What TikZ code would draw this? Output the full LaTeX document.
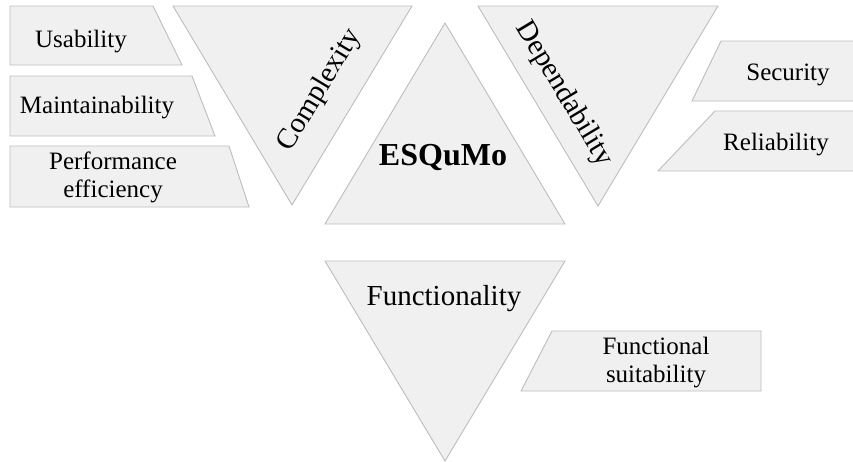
\documentclass[tikz,border=0pt]{standalone}
\usepackage{fontspec}
\setmainfont{Liberation Serif}
\definecolor{shapefill}{HTML}{F0F0F0}
\definecolor{shapeline}{HTML}{BDBDBD}
\begin{document}
\begin{tikzpicture}[x=1pt,y=-1pt,
  panel/.style={draw=shapeline, fill=shapefill, line width=0.9pt, line join=miter},
  boxtext/.style={font=\fontsize{25}{28}\selectfont, inner sep=0pt, align=center},
  tritext/.style={font=\fontsize{29}{32}\selectfont, inner sep=0pt},
  hubtext/.style={font=\bfseries\fontsize{32}{36}\selectfont, inner sep=0pt}]
\useasboundingbox (0,0) rectangle (853,461);
\begin{scope}
\clip (0,0) rectangle (853,461);
% central triangle
\path[panel] (325,224) -- (565,224) -- (445,23) -- cycle;
% inverted triangles
\path[panel] (173,6) -- (412,6) -- (292,205) -- cycle;
\path[panel] (478,6) -- (718,6) -- (598,206) -- cycle;
\path[panel] (325,261) -- (565,261) -- (445,461) -- cycle;
% left-hand attribute boxes
\path[panel] (10,6) -- (153,6) -- (182,65) -- (10,65) -- cycle;
\path[panel] (10,76) -- (192,76) -- (215,136) -- (10,136) -- cycle;
\path[panel] (10,146) -- (229,146) -- (249,207) -- (10,207) -- cycle;
% right-hand attribute boxes
\path[panel] (721,41) -- (860,41) -- (860,101) -- (692,101) -- cycle;
\path[panel] (715,111) -- (860,111) -- (860,171) -- (658,171) -- cycle;
\path[panel] (552,331) -- (761,331) -- (761,391) -- (521,391) -- cycle;
\end{scope}
% labels
\node[hubtext, anchor=base] (hub) at (443,165) {ESQuMo};
\node[tritext, rotate=59] (cpx) at (320,90) {Complexity};
\node[tritext, rotate=-59] (dep) at (564,94) {Dependability};
\node[tritext, anchor=base] (fun) at (444,305) {Functionality};
\node[boxtext, anchor=base] (usa) at (81,47) {Usability};
\node[boxtext, anchor=base] (mnt) at (97,113) {Maintainability};
\node[boxtext] (perf) at (113,177) {Performance\\efficiency};
\node[boxtext, anchor=base] (sec) at (788,80) {Security};
\node[boxtext, anchor=base] (rel) at (776,150) {Reliability};
\node[boxtext] (fsu) at (656,363) {Functional\\suitability};
\end{tikzpicture}
\end{document}
